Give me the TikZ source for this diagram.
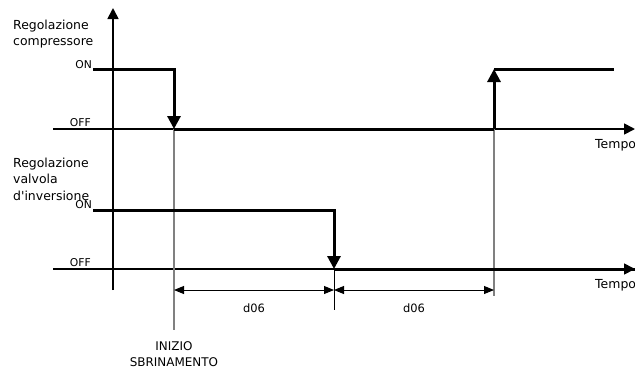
\documentclass[tikz,border=0pt]{standalone}
\usepackage{fontspec}
\setmainfont{DejaVu Sans}
\usetikzlibrary{arrows.meta}
\begin{document}
\begin{tikzpicture}[x=1bp,y=-1bp,
  axisline/.style={line width=1.7bp,black},
  sigline/.style={line width=3bp,black},
  sigarrow/.style={sigline,-{Triangle[length=13bp,width=13bp]}},
  axisarrow/.style={axisline,-{Triangle[length=11bp,width=11bp]}},
  guide/.style={line width=1.3bp,black!50},
  tick/.style={line width=0.9bp,black},
  dim/.style={line width=0.9bp,{Triangle[length=10bp,width=8bp]}-{Triangle[length=10bp,width=8bp]}},
  lbl/.style={font=\fontsize{12.5}{16.8}\selectfont,align=left,inner sep=0pt},
  lvl/.style={font=\fontsize{10.8}{11}\selectfont,inner sep=0pt,anchor=east},
  small/.style={font=\fontsize{11.5}{13}\selectfont,inner sep=0pt}]
\useasboundingbox (0,0) rectangle (635,370);
% coordinates
\coordinate (vbot) at (113,290);
\coordinate (vtop) at (113,8);
\coordinate (c0) at (53,129);
\coordinate (c1) at (635,129);
\coordinate (v0) at (53,269);
\coordinate (v1) at (635,269);
\coordinate (cOnS) at (93,69);
\coordinate (cOnE) at (174,69);
\coordinate (cOff) at (174,129);
\coordinate (cRise) at (494,129);
\coordinate (cRiseT) at (494,69);
\coordinate (cOnEnd) at (614,69);
\coordinate (vOnS) at (93,210);
\coordinate (vOnE) at (334,210);
\coordinate (vOff) at (334,269);
\coordinate (g1b) at (174,330);
\coordinate (g2b) at (494,296);
\coordinate (t3b) at (334,310);
\coordinate (d1) at (174,290);
\coordinate (d2) at (334,290);
\coordinate (d3) at (494,290);
% axes
\draw[axisarrow] (vbot) -- (vtop);
\draw[axisarrow] (c0) -- (c1);
\draw[axisarrow] (v0) -- (v1);
% guides
\draw[guide] (cOff) -- (g1b);
\draw[guide] (cRise) -- (g2b);
\draw[tick] (vOff) -- (t3b);
% compressor signal
\draw[sigarrow] (cOnS) -- (cOnE) -- (cOff);
\draw[sigline] (cOff) -- (cRise);
\draw[sigarrow] (cRise) -- (cRiseT);
\draw[sigline] (cRiseT) -- (cOnEnd);
% valve signal
\draw[sigarrow] (vOnS) -- (vOnE) -- (vOff);
\draw[sigline] (vOff) -- (v1);
% dimensions
\draw[dim] (d1) -- (d2);
\draw[dim] (d2) -- (d3);
\node[small] (dl1) at (254,308) {d06};
\node[small] (dl2) at (414,308) {d06};
% labels
\node[lbl,anchor=north west] (lc) at (13,19.5) {Regolazione\\compressore};
\node[lvl] (on1) at (92,64.5) {ON};
\node[lvl] (off1) at (91,122.5) {OFF};
\node[lbl,anchor=north west] (lv) at (13,157.5) {Regolazione\\valvola\\d\textquotesingle inversione};
\node[lvl] (on2) at (92,205) {ON};
\node[lvl] (off2) at (91,262.5) {OFF};
\node[font=\fontsize{12.5}{13}\selectfont,inner sep=0pt,anchor=west] (tp1) at (595,145) {Tempo};
\node[font=\fontsize{12.5}{13}\selectfont,inner sep=0pt,anchor=west] (tp2) at (595,285) {Tempo};
\node[align=center,inner sep=0pt,font=\fontsize{12}{16.5}\selectfont] (iz) at (174,354) {INIZIO\\SBRINAMENTO};
\end{tikzpicture}
\end{document}
